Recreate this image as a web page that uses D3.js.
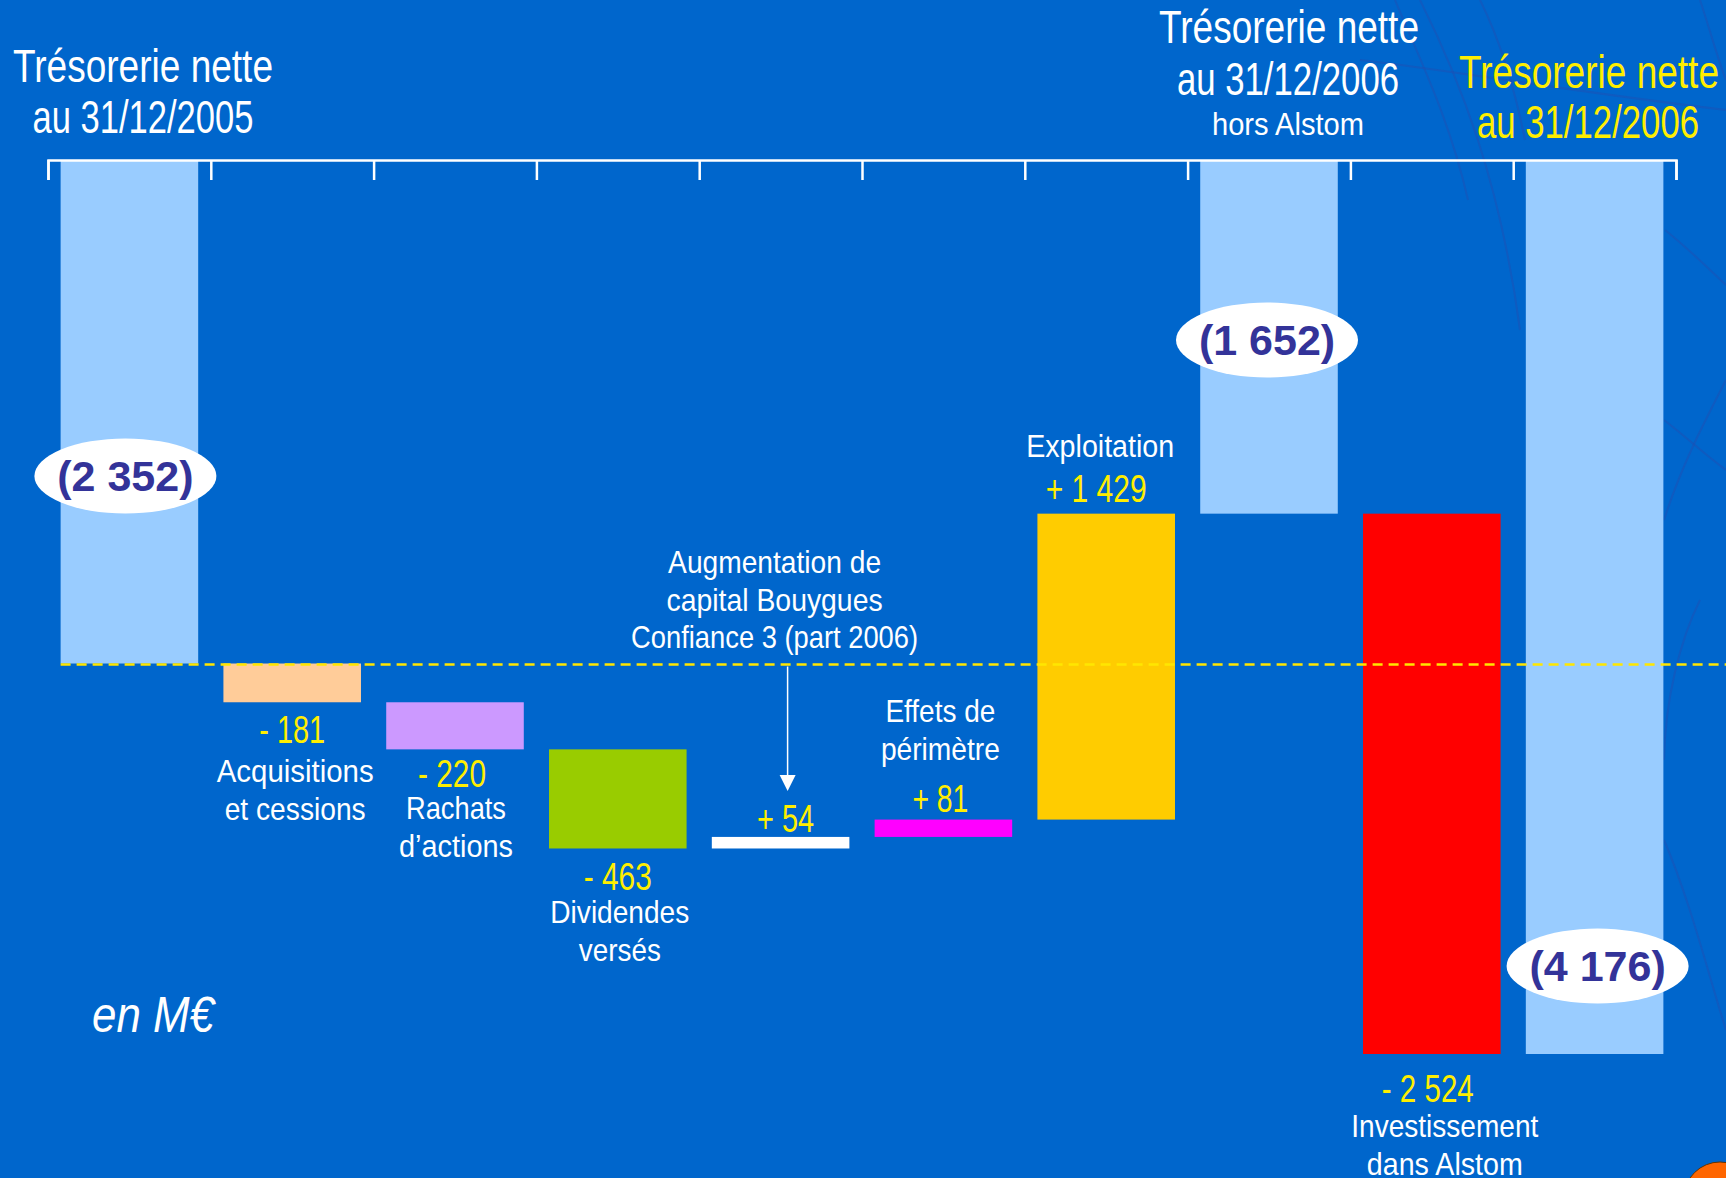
<!DOCTYPE html>
<html>
<head>
<meta charset="utf-8">
<script src="https://cdn.jsdelivr.net/npm/d3@7"></script>
<style>
  html, body { margin: 0; padding: 0; background: #0066CC; }
  svg { display: block; }
</style>
</head>
<body>
<svg id="chart" width="1726" height="1178"></svg>
<script>
// steps of the bridge, left to right
var kinds = ["total", "delta", "delta", "delta", "delta", "delta", "delta", "total", "delta", "total"];
var values = [-2352, -181, -220, -463, 54, 81, 1429, -1652, -2524, -4176];
var valueLabels = ["(2 352)", "- 181", "- 220", "- 463", "+ 54", "+ 81", "+ 1 429", "(1 652)", "- 2 524", "(4 176)"];
var names = [
  [],
  ["Acquisitions", "et cessions"],
  ["Rachats", "d\u2019actions"],
  ["Dividendes", "versés"],
  ["Augmentation de", "capital Bouygues", "Confiance 3 (part 2006)"],
  ["Effets de", "périmètre"],
  ["Exploitation"],
  [],
  ["Investissement", "dans Alstom"],
  []
];
var colors = ["#99CCFF", "#FFCC99", "#CC99FF", "#99CC00", "#FFFFFF", "#FF00FF", "#FFCC00", "#99CCFF", "#FF0000", "#99CCFF"];

// widths the narrow slide font gives each text
var textWidth = {
  "Trésorerie nette": 260, "au 31/12/2005": 221, "au 31/12/2006": 222, "hors Alstom": 152,
  "- 181": 66, "- 220": 68, "- 463": 68, "+ 54": 57, "+ 81": 56, "+ 1 429": 101, "- 2 524": 92,
  "Acquisitions": 157, "et cessions": 141, "Rachats": 100, "d\u2019actions": 114,
  "Dividendes": 139, "versés": 82, "Augmentation de": 213, "capital Bouygues": 216,
  "Confiance 3 (part 2006)": 287, "Effets de": 110, "périmètre": 119, "Exploitation": 148,
  "Investissement": 187, "dans Alstom": 156
};

var svg = d3.select("#chart");
var W = 1726, H = 1178;
var FONT = "'Liberation Sans', Arial, sans-serif";

svg.append("rect").attr("width", W).attr("height", H).attr("fill", "#0066CC");

// faint decorative strokes of the slide background
var deco = svg.append("g").attr("fill", "none").attr("stroke", "#1d4fb3").attr("stroke-opacity", 0.5).attr("stroke-width", 2);
[
  "M1395,0 C1420,60 1450,120 1468,200",
  "M1420,0 C1460,80 1500,180 1520,330",
  "M1480,0 C1500,40 1515,90 1525,140",
  "M1360,60 C1450,70 1560,90 1726,110",
  "M1665,230 C1690,250 1710,270 1726,285",
  "M1700,600 C1680,640 1665,700 1664,760",
  "M1726,380 C1700,430 1680,470 1664,520",
  "M1664,840 C1690,900 1710,980 1726,1030",
  "M1664,420 C1690,440 1705,455 1726,470",
  "M1700,0 C1710,30 1718,60 1726,80"
].forEach(function(d) { deco.append("path").attr("d", d); });

svg.append("circle").attr("cx", 1720).attr("cy", 1198).attr("r", 36)
  .attr("fill", "#FF6600").attr("stroke", "#663300").attr("stroke-width", 1);

// running totals
var running = 0;
var bars = values.map(function(v, i) {
  var y0, y1;
  if (kinds[i] === "total") { y0 = 0; y1 = v; running = v; }
  else { y0 = running; y1 = running + v; running = y1; }
  return { i: i, v: v, y0: y0, y1: y1 };
});

var x = d3.scaleBand().domain(d3.range(values.length)).range([48, 1676])
  .paddingInner(0.155).paddingOuter(0.0775);
var y = d3.scaleLinear().domain([0, -4176]).range([160, 1054]);
var edge = d3.scaleLinear().domain([0, values.length]).range([48, 1676]);

svg.selectAll("rect.bar").data(bars).enter().append("rect")
  .attr("class", "bar")
  .attr("x", function(d) { return x(d.i); })
  .attr("width", x.bandwidth())
  .attr("y", function(d) { return Math.min(y(d.y0), y(d.y1)); })
  .attr("height", function(d) { return Math.abs(y(d.y1) - y(d.y0)); })
  .attr("fill", function(d) { return colors[d.i]; });

// reference line at the opening level
svg.append("line")
  .attr("x1", x(0)).attr("x2", W)
  .attr("y1", y(values[0]) + 1).attr("y2", y(values[0]) + 1)
  .attr("stroke", "#FFE600").attr("stroke-width", 2.5).attr("stroke-dasharray", "10,6");

// top axis with ticks on the band edges
var axis = d3.axisBottom(edge).ticks(values.length).tickSize(20).tickSizeOuter(20).tickFormat("");
var ag = svg.append("g").attr("transform", "translate(0,160)").call(axis);
ag.selectAll("path, line").attr("stroke", "#FFFFFF").attr("stroke-width", 2.5);

function put(txt, cx, by, size, fill) {
  var t = svg.append("text").attr("x", cx).attr("y", by).attr("text-anchor", "middle")
    .style("font-family", FONT).attr("font-size", size).attr("fill", fill || "#FFFFFF").text(txt);
  if (textWidth[txt]) t.attr("textLength", textWidth[txt]).attr("lengthAdjust", "spacingAndGlyphs");
  return t;
}

// headers
put("Trésorerie nette", 143, 82, 46);
put("au 31/12/2005", 143, 133, 46);
put("Trésorerie nette", 1289, 43, 46);
put("au 31/12/2006", 1288, 95, 46);
put("hors Alstom", 1288, 135, 31);
put("Trésorerie nette", 1589, 88, 46, "#FFEE00");
put("au 31/12/2006", 1588, 138, 46, "#FFEE00");

// ovals on the totals
var ovalCy = { 0: 476, 7: 340, 9: 966 };
var ovalDx = { 0: -4, 7: -2, 9: 3 };
bars.filter(function(d) { return kinds[d.i] === "total"; }).forEach(function(d) {
  var cx = x(d.i) + x.bandwidth() / 2 + ovalDx[d.i];
  svg.append("ellipse").attr("cx", cx).attr("cy", ovalCy[d.i]).attr("rx", 91).attr("ry", 37.5).attr("fill", "#FFFFFF");
  svg.append("text").attr("x", cx).attr("y", ovalCy[d.i] + 15).attr("text-anchor", "middle")
    .style("font-family", FONT).attr("font-weight", "bold")
    .attr("font-size", 43).attr("fill", "#333399").text(valueLabels[d.i]);
});

// labels for the moves: value then name, below or above the bar
var lab = {
  1: { dx: 0, val: 41, name: [80, 118] },
  2: { dx: -3, val: 38, name: [70, 108] },
  3: { dx: 0, val: 42, name: [75, 113] },
  4: { dx: 5, val: -5, name: [-264, -226, -189] },
  5: { dx: -3, val: -8, name: [-98, -60] },
  6: { dx: -10, val: -12, name: [-57] },
  8: { dx: -4, val: 48, name: [83, 121] }
};
var nameDx = { 1: 3, 2: 1, 3: 2, 4: -6, 5: -3, 6: -6, 8: 13 };
bars.filter(function(d) { return kinds[d.i] === "delta"; }).forEach(function(d) {
  var L = lab[d.i];
  var cx = x(d.i) + x.bandwidth() / 2;
  var ref = y(d.y1);
  put(valueLabels[d.i], cx + L.dx, ref + L.val, 38, "#FFEE00");
  names[d.i].forEach(function(t, k) {
    put(t, cx + nameDx[d.i], ref + L.name[k], 32);
  });
});

// arrow from the capital increase note to its bar
var ax = x(4) + x.bandwidth() / 2 + 7;
svg.append("line").attr("x1", ax).attr("x2", ax).attr("y1", y(values[0]) + 3).attr("y2", 778)
  .attr("stroke", "#FFFFFF").attr("stroke-width", 1.5);
svg.append("path").attr("d", d3.line()([[ax - 8, 775], [ax + 8, 775], [ax, 791]])).attr("fill", "#FFFFFF");

svg.append("text").attr("x", 92).attr("y", 1032).style("font-family", FONT)
  .attr("font-style", "italic").attr("font-size", 50).attr("fill", "#FFFFFF")
  .attr("textLength", 122).attr("lengthAdjust", "spacingAndGlyphs").text("en M€");
</script>
</body>
</html>
